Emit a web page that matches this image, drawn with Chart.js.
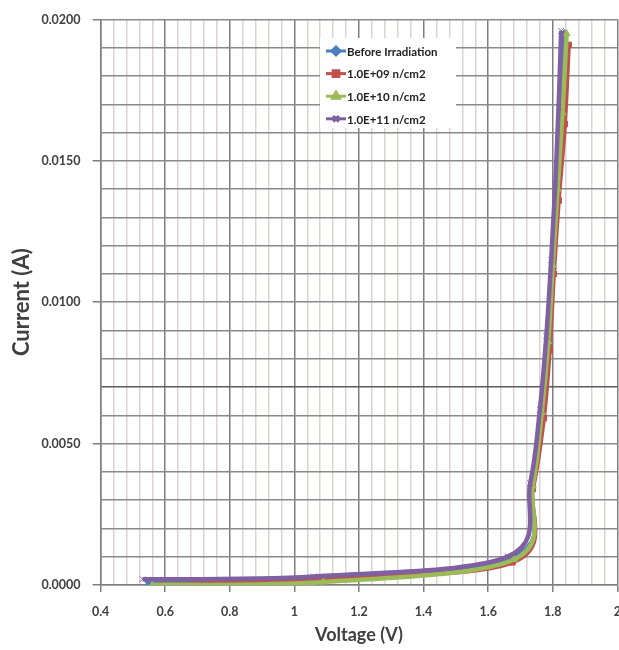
<!DOCTYPE html>
<html>
<head>
<meta charset="utf-8">
<script src="https://cdn.jsdelivr.net/npm/chart.js@4.4.1/dist/chart.umd.min.js"></script>
<style>
  html, body { margin: 0; padding: 0; background: #fff; overflow: hidden; }
  #wrap { position: relative; width: 635px; height: 650px; }
</style>
</head>
<body>
<div id="wrap"><canvas id="ivChart"></canvas></div>
<script>
// Series labels (legend order)
const seriesLabels = ['Before Irradiation', '1.0E+09 n/cm2', '1.0E+10 n/cm2', '1.0E+11 n/cm2'];

// Voltage (V) / Current (A)
const beforeV = [0.55, 1.05, 1.68, 1.735, 1.768, 1.786, 1.800, 1.813, 1.826, 1.836];
const beforeI = [0.0001, 0.0002, 0.0010, 0.0035, 0.0060, 0.0085, 0.0112, 0.0140, 0.0167, 0.0195];

const e09V = [0.59, 1.01, 1.675, 1.738, 1.772, 1.790, 1.803, 1.818, 1.837, 1.849];
const e09I = [0.0000, 0.0002, 0.0008, 0.0034, 0.0059, 0.0083, 0.0110, 0.0136, 0.0163, 0.0191];

const e10V = [0.56, 1.09, 1.68, 1.738, 1.766, 1.786, 1.800, 1.815, 1.830, 1.843];
const e10I = [0.0000, 0.0001, 0.0009, 0.0035, 0.0061, 0.0086, 0.0113, 0.0140, 0.0167, 0.0195];

const e11V = [0.53, 1.06, 1.66, 1.730, 1.760, 1.780, 1.795, 1.808, 1.818, 1.826];
const e11I = [0.0002, 0.0003, 0.0010, 0.0036, 0.0062, 0.0088, 0.0115, 0.0142, 0.0169, 0.0196];

const seriesColors = ['#4a7ebb', '#c0504d', '#9bbb59', '#7f60a2'];
const seriesMarkers = ['rectRot', 'rect', 'triangle', 'crossRot'];

function toPoints(xs, ys) {
    return xs.map((x, i) => ({ x: x, y: ys[i] }));
}

const allSeries = [toPoints(beforeV, beforeI), toPoints(e09V, e09I), toPoints(e10V, e10I), toPoints(e11V, e11I)];

const datasets = allSeries.map((pts, i) => ({
    label: seriesLabels[i],
    data: pts,
    borderColor: seriesColors[i],
    backgroundColor: seriesColors[i],
    borderWidth: 4.5,
    pointStyle: seriesMarkers[i],
    pointRadius: 4,
    pointBorderWidth: 1,
    showLine: true,
    tension: 0.4,
    order: 3 - i // last series drawn on top
}));

const FONT = 'Lato, "Open Sans", sans-serif';
const isMultiple = (v, step) => Math.abs(v / step - Math.round(v / step)) < 1e-6;

// Excel-like smoothing: uniform Catmull-Rom control points instead of
// Chart.js' distance-weighted ones (avoids the sag in the long flat segments)
const excelSmooth = {
    id: 'excelSmooth',
    beforeDatasetDraw(chart, args) {
        const meta = args.meta;
        const pts = meta.data;
        for (let i = 0; i < pts.length; i++) {
            const p = pts[i];
            const prev = pts[Math.max(i - 1, 0)];
            const next = pts[Math.min(i + 1, pts.length - 1)];
            const dx = (next.x - prev.x) / 6;
            const dy = (next.y - prev.y) / 6;
            p.cp1x = p.x - dx; p.cp1y = p.y - dy;
            p.cp2x = p.x + dx; p.cp2y = p.y + dy;
        }
        meta.dataset._pointsUpdated = true;
        meta.dataset._path = undefined;
    }
};

// legend drawn inside the plot, white box over the grid
const insideLegend = {
    id: 'insideLegend',
    afterDraw(chart) {
        const ctx = chart.ctx;
        const left = 320, top = 38;
        ctx.save();
        ctx.fillStyle = '#ffffff';
        ctx.fillRect(left, top, 136, 90);
        chart.data.datasets.forEach((ds, i) => {
            const y = top + 13 + i * 22.6;
            ctx.strokeStyle = ds.borderColor;
            ctx.lineWidth = 3;
            ctx.beginPath();
            ctx.moveTo(left + 6, y);
            ctx.lineTo(left + 26, y);
            ctx.stroke();
            ctx.fillStyle = ds.backgroundColor;
            Chart.helpers.drawPoint(ctx, { pointStyle: ds.pointStyle, radius: 4, rotation: 0, borderWidth: 1 }, left + 16, y);
            ctx.fillStyle = '#222';
            ctx.font = 'bold 11.5px ' + FONT;
            ctx.textBaseline = 'middle';
            ctx.fillText(ds.label, left + 27, y + 1);
        });
        ctx.restore();
    }
};

new Chart(document.getElementById('ivChart'), {
    type: 'scatter',
    data: { datasets: datasets },
    options: {
        responsive: true,
        maintainAspectRatio: false,
        animation: false,
        layout: { padding: { top: 14, left: 9, right: 0, bottom: 4 } },
        plugins: {
            legend: { display: false },
            tooltip: { enabled: false }
        },
        elements: { point: { hoverRadius: 4 } },
        scales: {
            x: {
                type: 'linear',
                min: 0.4,
                max: 2.0,
                ticks: {
                    stepSize: 0.04,
                    autoSkip: false,
                    maxRotation: 0,
                    padding: 14,
                    color: '#404040',
                    font: { family: FONT, size: 12.5, weight: 'bold', lineHeight: 1 },
                    callback: (v) => isMultiple(v, 0.2) ? String(Math.round(v * 10) / 10) : ''
                },
                grid: {
                    color: (c) => isMultiple(c.tick.value, 0.2) ? '#7f7f7f' : '#ddd3d3',
                    lineWidth: 1.5,
                    tickLength: 7,
                    tickColor: (c) => isMultiple(c.tick.value, 0.2) ? '#7f7f7f' : 'rgba(0,0,0,0)'
                },
                border: { color: '#7f7f7f', width: 1.5 },
                title: {
                    display: true,
                    text: 'Voltage (V)',
                    color: '#404040',
                    padding: { top: -8, bottom: 0 },
                    font: { family: FONT, size: 18, weight: 'bold' }
                }
            },
            y: {
                type: 'linear',
                min: 0,
                max: 0.02,
                ticks: {
                    stepSize: 0.001,
                    autoSkip: false,
                    padding: 12,
                    color: '#404040',
                    font: { family: FONT, size: 12.5, weight: 'bold' },
                    callback: (v) => isMultiple(v, 0.005) ? v.toFixed(4) : ''
                },
                grid: {
                    color: (c) => isMultiple(c.tick.value - 0.007, 1) ? '#5a5a5a' : '#8a8a8a',
                    lineWidth: 1.5,
                    tickLength: 8,
                    tickColor: (c) => isMultiple(c.tick.value, 0.005) ? '#7f7f7f' : 'rgba(0,0,0,0)'
                },
                border: { color: '#7f7f7f', width: 1.5 },
                title: {
                    display: true,
                    text: 'Current (A)',
                    color: '#404040',
                    padding: { top: 0, bottom: -6 },
                    font: { family: FONT, size: 22, weight: 'bold' }
                }
            }
        }
    },
    plugins: [excelSmooth, insideLegend]
});
</script>
</body>
</html>
